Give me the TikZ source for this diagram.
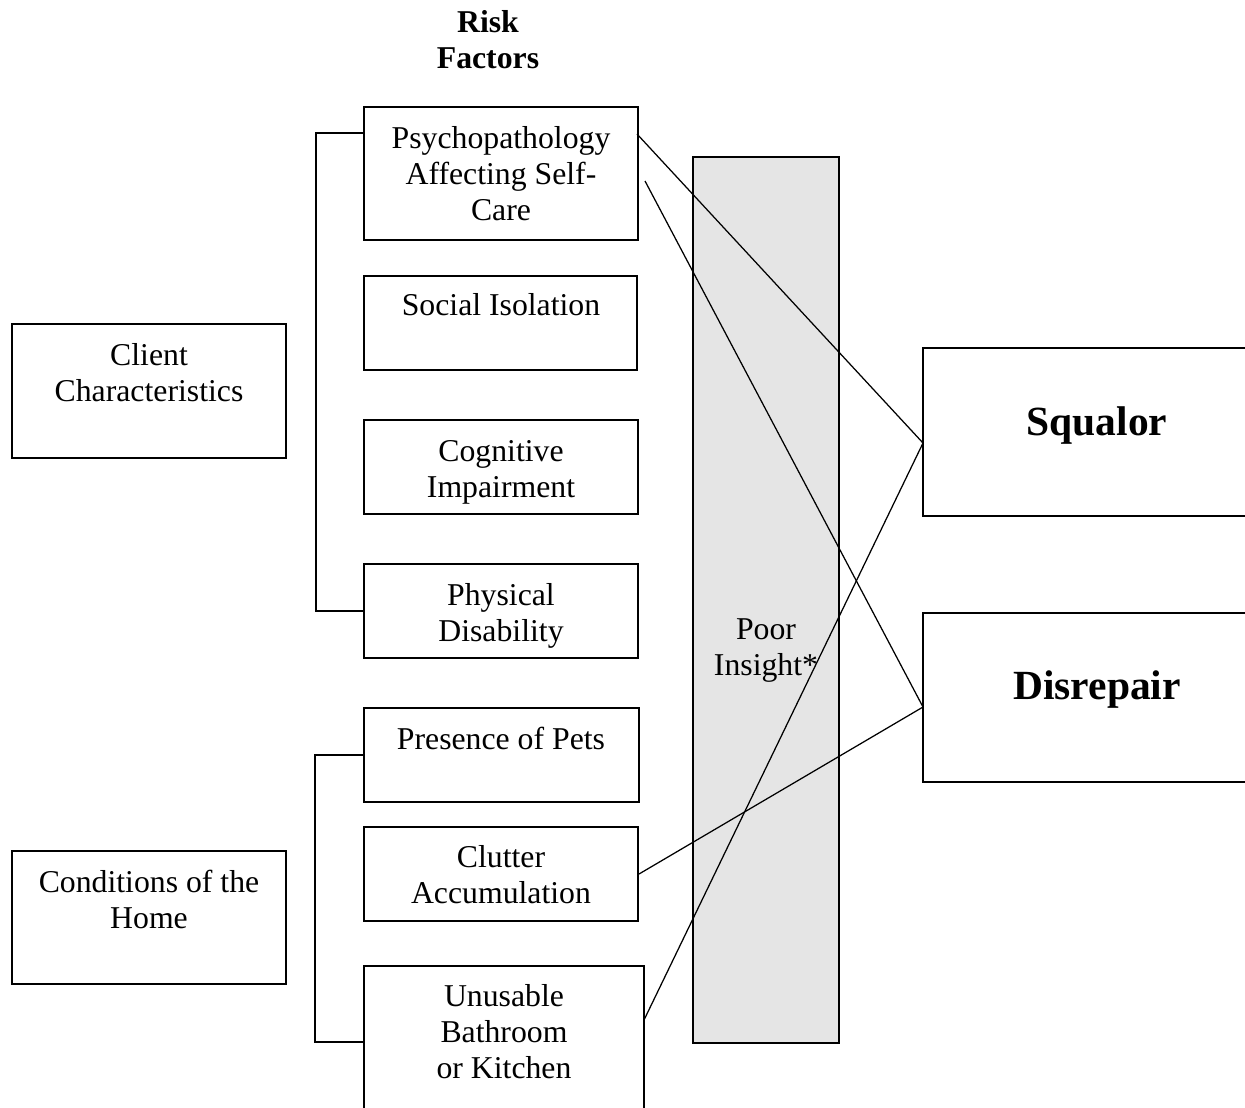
\documentclass[tikz,border=0pt]{standalone}
\usepackage{fontspec}
\setmainfont{Liberation Serif}
\usetikzlibrary{fit}
\begin{document}
\begin{tikzpicture}[x=0.4pt,y=-0.4pt,
  box/.style={draw, line width=0.8pt, inner sep=0pt},
  txt/.style={align=center, inner sep=0pt, font=\fontsize{12.7}{14.4}\selectfont},
  big/.style={align=center, inner sep=0pt, font=\fontsize{16.6}{19}\selectfont\bfseries},
  link/.style={line width=0.5pt},
  brk/.style={line width=0.5pt}]
\clip (0,0) rectangle (1245,1107);
% title
\node[txt, font=\fontsize{12.7}{14.4}\selectfont\bfseries] (title) at (488,40) {Risk\\Factors};
% left boxes
\node[box, fit={(12,324)(286,458)}] (client) {};
\node[txt] (clientT) at (149,373) {Client\\Characteristics};
\node[box, fit={(12,851)(286,984)}] (home) {};
\node[txt] (homeT) at (149,899) {Conditions of the\\Home};
% risk factor boxes
\node[box, fit={(364,107)(638,240)}] (psy) {};
\node[txt] (psyT) at (501,173.5) {Psychopathology\\Affecting Self-\\Care};
\node[box, fit={(364,276)(637,370)}] (soc) {};
\node[txt] (socT) at (501,305) {Social Isolation};
\node[box, fit={(364,420)(638,514)}] (cog) {};
\node[txt] (cogT) at (501,472) {Cognitive\\Impairment};
\node[box, fit={(364,564)(638,658)}] (phys) {};
\node[txt] (physT) at (501,616) {Physical\\Disability};
\node[box, fit={(364,708)(639,802)}] (pets) {};
\node[txt] (petsT) at (501,738) {Presence of Pets};
\node[box, fit={(364,827)(638,921)}] (clu) {};
\node[txt] (cluT) at (501,875) {Clutter\\Accumulation};
\node[box, fit={(364,966)(644,1130)}] (unu) {};
\node[txt] (unuT) at (504,1032) {Unusable\\Bathroom\\or Kitchen};
% poor insight bar
\node[box, fill=gray!20, fit={(693,157)(839,1043)}] (bar) {};
\node[txt] (barT) at (766,651) {Poor\\Insight*};
% outcome boxes
\node[box, fit={(923,348)(1290,516)}] (sq) {};
\node[big] (sqT) at (1097,426) {Squalor};
\node[box, fit={(923,613)(1290,782)}] (dr) {};
\node[big] (drT) at (1097,690) {Disrepair};
% brackets
\coordinate (psyL) at (364,133);
\coordinate (unuL) at (364,1042);
\draw[brk] (psyL) -- ++(-48,0) |- (phys.west);
\draw[brk] (pets.west) -- ++(-48,0) |- (unuL);
% connectors
\coordinate (psyA) at (637,134);
\coordinate (psyB) at (645,181);
\coordinate (unuOut) at (644,1020);
\coordinate (sqIn) at (923,443);
\coordinate (drIn) at (923,707);
\draw[link] (psyA) -- (sqIn);
\draw[link] (psyB) -- (drIn);
\draw[link] (clu.east) -- (drIn);
\draw[link] (unuOut) -- (sqIn);
\end{tikzpicture}
\end{document}
